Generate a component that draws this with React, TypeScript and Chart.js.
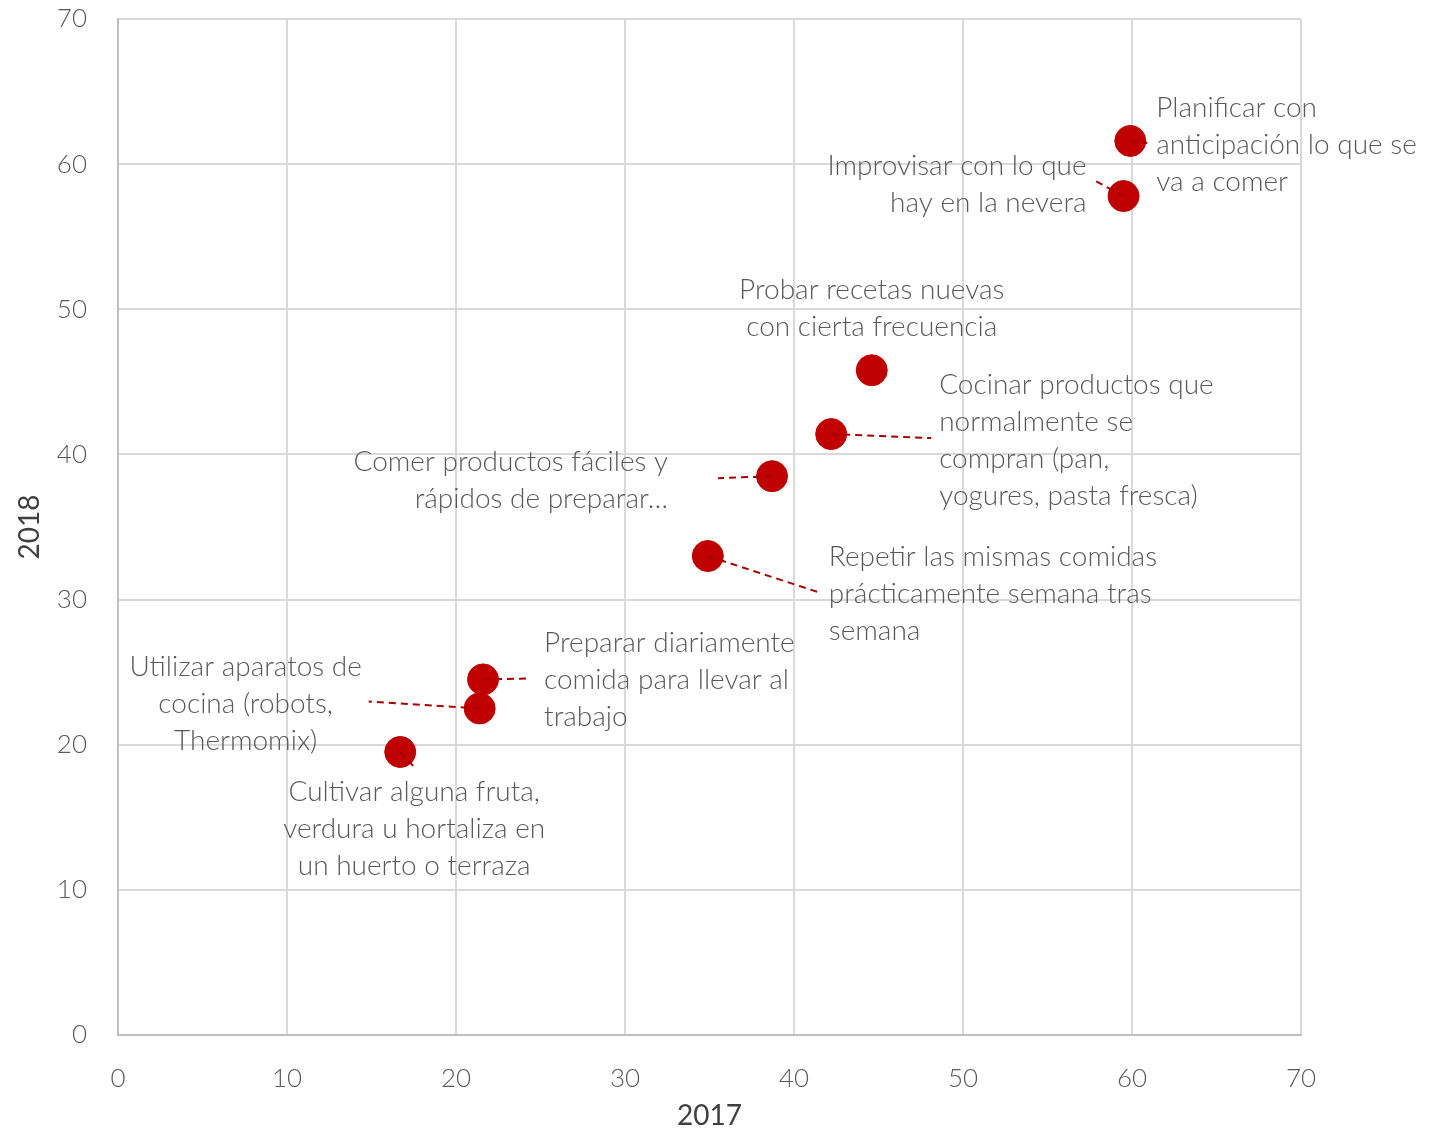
import React, { useEffect, useRef } from "react";
import { Chart, registerables } from "chart.js";

Chart.register(...registerables);

// Share of respondents per habit, 2017 vs 2018 (%)
const habits: string[][] = [
  ["Planificar con", "anticipación lo que se", "va a comer"],
  ["Improvisar con lo que", "hay en la nevera"],
  ["Probar recetas nuevas", "con cierta frecuencia"],
  ["Cocinar productos que", "normalmente se", "compran (pan,", "yogures, pasta fresca)"],
  ["Comer productos fáciles y", "rápidos de preparar…"],
  ["Repetir las mismas comidas", "prácticamente semana tras", "semana"],
  ["Preparar diariamente", "comida para llevar al", "trabajo"],
  ["Utilizar aparatos de", "cocina (robots,", "Thermomix)"],
  ["Cultivar alguna fruta,", "verdura u hortaliza en", "un huerto o terraza"],
];
const values2017: number[] = [59.9, 59.5, 44.6, 42.2, 38.7, 34.9, 21.6, 21.4, 16.7];
const values2018: number[] = [61.6, 57.8, 45.8, 41.4, 38.5, 33.0, 24.5, 22.5, 19.5];
const axisTicks: number[] = [0, 10, 20, 30, 40, 50, 60, 70];

// Label placement relative to each point (pixels): text anchor, alignment, leader end
type LabelPlace = { dx: number; dy: number; align: CanvasTextAlign; lx: number | null; ly: number | null };
const placements: LabelPlace[] = [
  { dx: 26, dy: -33, align: "left", lx: 17, ly: 2 },
  { dx: -37, dy: -30, align: "right", lx: -28, ly: -15 },
  { dx: 0, dy: -80, align: "center", lx: null, ly: null },
  { dx: 108, dy: -49, align: "left", lx: 100, ly: 4 },
  { dx: -104, dy: -14, align: "right", lx: -54, ly: 2 },
  { dx: 121, dy: 1, align: "left", lx: 110, ly: 36 },
  { dx: 61, dy: -36, align: "left", lx: 48, ly: -1 },
  { dx: -234, dy: -41, align: "center", lx: -111, ly: -7 },
  { dx: 14, dy: 40, align: "center", lx: 14, ly: 15 },
];

const FONT = "Lato, 'Source Sans Pro', 'Open Sans', sans-serif";
const LINE_H = 37;

const labelPlugin = {
  id: "habitLabels",
  afterDatasetsDraw(chart: any) {
    const ctx: CanvasRenderingContext2D = chart.ctx;
    const meta = chart.getDatasetMeta(0);
    ctx.save();
    // leader lines, drawn over the markers
    meta.data.forEach((pt: any, i: number) => {
      const p = placements[i];
      if (p.lx === null || p.ly === null) return;
      ctx.beginPath();
      ctx.setLineDash([7, 5]);
      ctx.lineWidth = 2;
      ctx.strokeStyle = "#a50000";
      ctx.moveTo(pt.x, pt.y);
      ctx.lineTo(pt.x + p.lx, pt.y + p.ly);
      ctx.stroke();
    });
    ctx.setLineDash([]);
    ctx.font = `300 28px ${FONT}`;
    ctx.fillStyle = "#595959";
    ctx.textBaseline = "middle";
    meta.data.forEach((pt: any, i: number) => {
      const p = placements[i];
      ctx.textAlign = p.align;
      habits[i].forEach((line, k) => {
        ctx.fillText(line, pt.x + p.dx, pt.y + p.dy + k * LINE_H);
      });
    });
    ctx.restore();
  },
};

export default function App() {
  const canvasRef = useRef<HTMLCanvasElement | null>(null);

  useEffect(() => {
    document.body.style.margin = "0";
    const canvas = canvasRef.current;
    if (!canvas) return;
    const tickFont = { family: FONT, size: 26, weight: 300 as any };
    const titleFont = { family: FONT, size: 28, weight: 400 as any, lineHeight: 1 };
    const chart = new Chart(canvas, {
      type: "scatter",
      data: {
        datasets: [
          {
            data: values2017.map((x, i) => ({ x, y: values2018[i] })),
            backgroundColor: "#c00000",
            borderColor: "#c00000",
            pointRadius: 15.5,
            pointHoverRadius: 15.5,
          },
        ],
      },
      options: {
        animation: false,
        responsive: false,
        devicePixelRatio: 1,
        layout: { padding: { top: 19, right: 128, left: 0, bottom: 0 } },
        plugins: { legend: { display: false }, tooltip: { enabled: false } },
        scales: {
          x: {
            type: "linear",
            min: 0,
            max: 70,
            afterFit: (s: any) => { s.height = 95; s.paddingLeft = 0; s.paddingRight = 0; },
            afterBuildTicks: (s: any) => { s.ticks = axisTicks.map((v) => ({ value: v })); },
            grid: { color: "#d9d9d9", lineWidth: 2, drawTicks: false },
            border: { color: "#bfbfbf", width: 2 },
            ticks: { color: "#595959", font: tickFont, padding: 28 },
            title: { display: true, text: "2017", color: "#404040", font: titleFont, padding: { top: 0, bottom: 0 } },
          },
          y: {
            type: "linear",
            min: 0,
            max: 70,
            afterFit: (s: any) => { s.width = 118; s.paddingTop = 0; s.paddingBottom = 0; },
            afterBuildTicks: (s: any) => { s.ticks = axisTicks.map((v) => ({ value: v })); },
            grid: { color: "#d9d9d9", lineWidth: 2, drawTicks: false },
            border: { color: "#bfbfbf", width: 2 },
            ticks: { color: "#595959", font: tickFont, padding: 31 },
            title: { display: true, text: "2018", color: "#404040", font: titleFont, padding: { top: 16, bottom: 0 } },
          },
        },
      },
      plugins: [labelPlugin],
    });
    return () => chart.destroy();
  }, []);

  return <canvas ref={canvasRef} width={1429} height={1130} style={{ display: "block" }} />;
}
